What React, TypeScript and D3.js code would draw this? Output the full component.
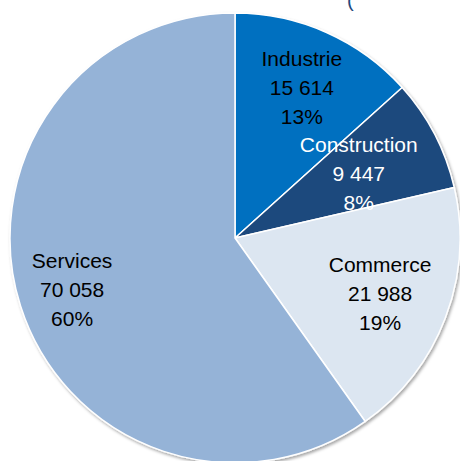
import { useEffect, useRef } from "react";
import * as d3 from "d3";

const categories = ["Industrie", "Construction", "Commerce", "Services"];
const values = [15614, 9447, 21988, 70058];
const percentLabels = ["13%", "8%", "19%", "60%"];

const colors = ["#0070C0", "#1F497D", "#DCE6F1", "#95B3D7"];
const textColors = ["#000000", "#ffffff", "#000000", "#000000"];
// label distance from centre, as a share of the radius (Excel "best fit")
const labelRadius = [0.73, 0.62, 0.69, 0.76];

const fmt = (v: number) => d3.format(",")(v).replace(/,/g, " ");

export default function App() {
  const svgRef = useRef<SVGSVGElement>(null);

  useEffect(() => {
    if (!svgRef.current) return;
    const width = 460;
    const height = 461;
    const cx = 235;
    const cy = 238;
    const radius = 225;

    const svg = d3.select(svgRef.current);
    svg.selectAll("*").remove();

    const defs = svg.append("defs");
    const filter = defs.append("filter").attr("id", "shadow")
      .attr("x", "-10%").attr("y", "-10%").attr("width", "120%").attr("height", "120%");
    filter.append("feDropShadow")
      .attr("dx", 1.5).attr("dy", 2).attr("stdDeviation", 1.5)
      .attr("flood-color", "#000").attr("flood-opacity", 0.35);

    // clipped title fragment at the very top
    svg.append("text")
      .attr("x", 347).attr("y", 7)
      .attr("font-family", "Liberation Sans, Arial, sans-serif")
      .attr("font-size", 20)
      .attr("fill", "#1F497D")
      .text("(");

    const data = categories.map((name, i) => ({ name, value: values[i], i }));

    const pie = d3.pie<(typeof data)[0]>().value((d) => d.value).sort(null);
    const arc = d3.arc<d3.PieArcDatum<(typeof data)[0]>>().innerRadius(0).outerRadius(radius);

    const g = svg.append("g").attr("transform", `translate(${cx},${cy})`);
    const arcs = pie(data);

    g.append("g").attr("filter", "url(#shadow)")
      .selectAll("path")
      .data(arcs)
      .enter()
      .append("path")
      .attr("d", arc)
      .attr("fill", (d) => colors[d.data.i])
      .attr("stroke", "#ffffff")
      .attr("stroke-width", 1.5)
      .attr("stroke-linejoin", "round");

    const lineH = 29;
    const labels = g.selectAll("text.lbl")
      .data(arcs)
      .enter()
      .append("text")
      .attr("class", "lbl")
      .attr("transform", (d) => {
        const r = radius * labelRadius[d.data.i];
        const a = (d.startAngle + d.endAngle) / 2;
        return `translate(${Math.sin(a) * r},${-Math.cos(a) * r})`;
      })
      .attr("text-anchor", "middle")
      .attr("font-family", "Liberation Sans, Arial, sans-serif")
      .attr("font-size", 21)
      .attr("fill", (d) => textColors[d.data.i]);

    labels.each(function (d) {
      const t = d3.select(this);
      const lines = [d.data.name, fmt(d.data.value), percentLabels[d.data.i]];
      lines.forEach((s, k) => {
        t.append("tspan")
          .attr("x", 0)
          .attr("y", (k - 1) * lineH + 7.5)
          .text(s);
      });
    });

    svg.attr("width", width).attr("height", height);
  }, []);

  return (
    <svg
      ref={svgRef}
      width={460}
      height={461}
      style={{ position: "absolute", left: 0, top: 0, background: "#fff" }}
    />
  );
}
